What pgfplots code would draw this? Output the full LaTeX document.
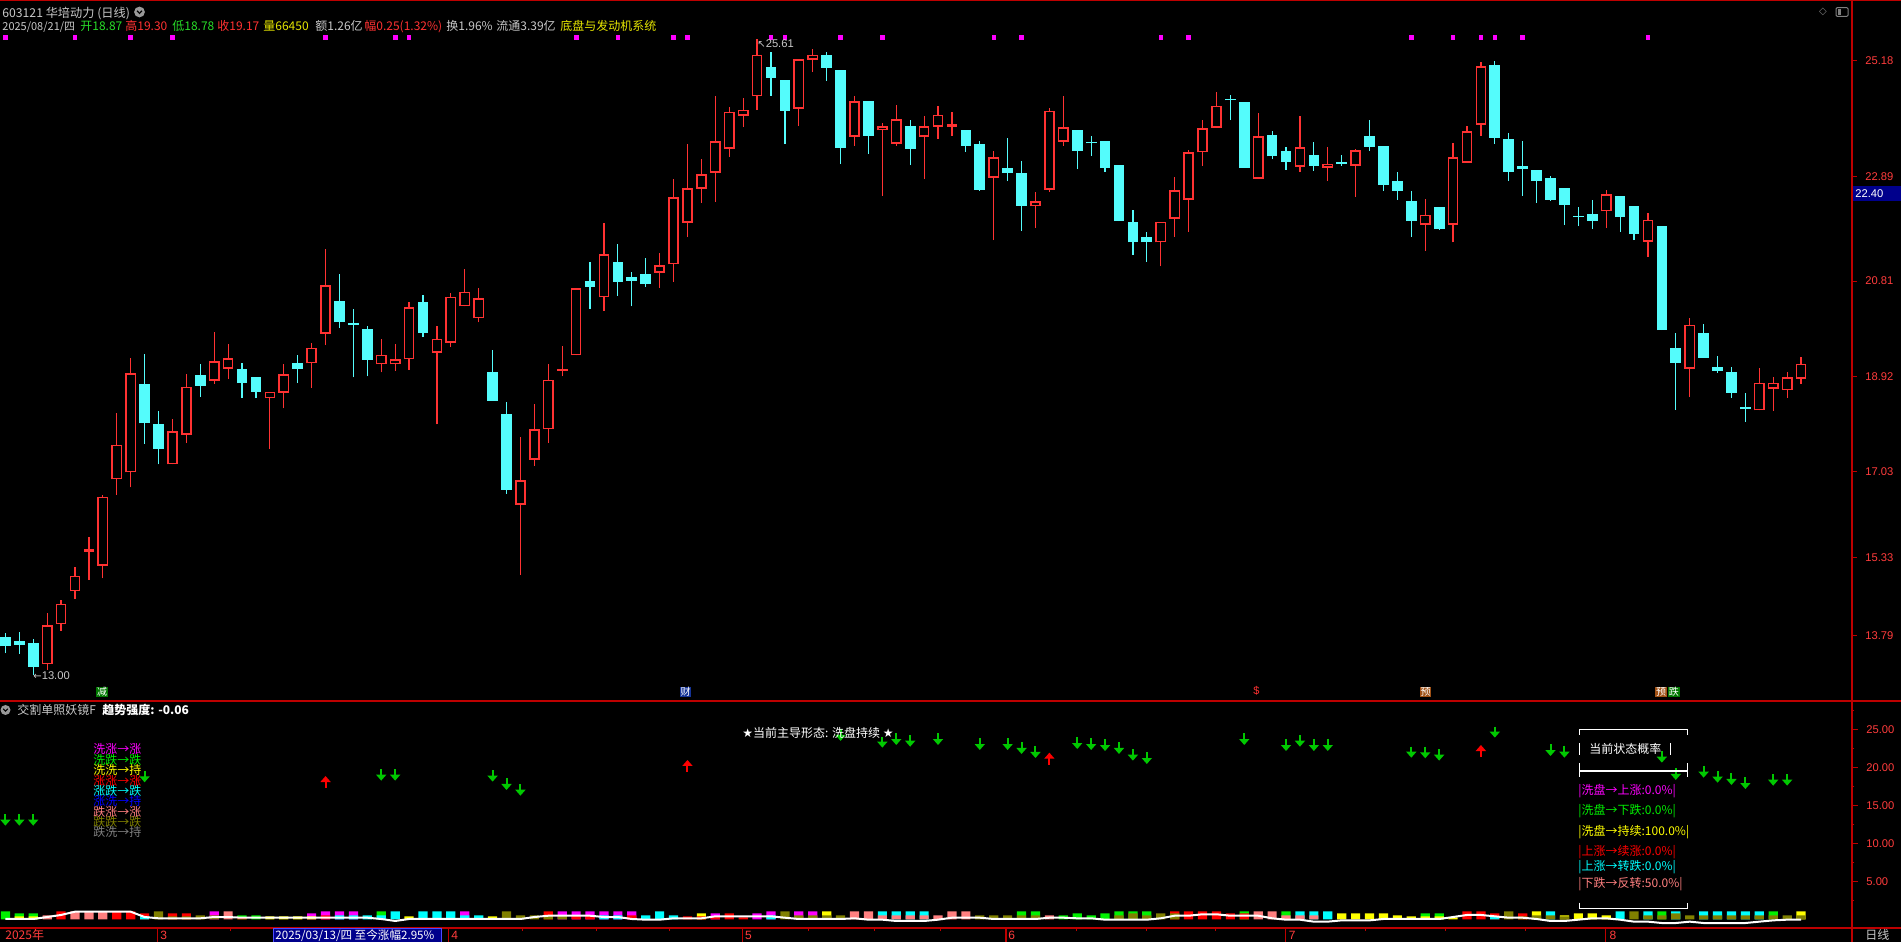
\documentclass[border=0pt]{standalone}
\usepackage{fontspec}
\setmainfont{Liberation Sans}
\newfontfamily\cjk{Noto Sans CJK SC}
\newfontfamily\dv{DejaVu Sans}
\usepackage{pgfplots}
\pgfplotsset{compat=1.18}
\usepackage{pgfplotstable}
\usetikzlibrary{arrows.meta}

\definecolor{axred}{RGB}{190,0,0}
\definecolor{labred}{RGB}{255,60,60}
\definecolor{upred}{RGB}{255,50,50}
\definecolor{dncyan}{RGB}{84,252,252}
\definecolor{bgreen}{RGB}{0,240,0}
\definecolor{agreen}{RGB}{0,200,0}
\definecolor{byellow}{RGB}{255,255,0}
\definecolor{bpink}{RGB}{255,128,128}
\definecolor{bred}{RGB}{255,0,0}
\definecolor{bcyan}{RGB}{0,255,255}
\definecolor{bolive}{RGB}{128,128,0}
\definecolor{bmag}{RGB}{255,0,255}
\definecolor{bblue}{RGB}{0,0,255}
\definecolor{txtgray}{RGB}{200,200,200}
\definecolor{navy2}{RGB}{0,0,140}
\definecolor{tgreen}{RGB}{40,220,40}
\definecolor{tyellow}{RGB}{230,230,0}

% up candles (red, hollow)
\pgfplotstableread{
i o h l c
4 13.22 14.23 13.11 13.99
5 14.01 14.49 13.88 14.42
6 14.66 15.14 14.51 14.97
7 15.45 15.74 14.89 15.50
8 15.17 16.58 14.92 16.54
9 16.88 18.19 16.58 17.57
10 17.02 19.28 16.72 18.98
13 17.18 18.07 17.18 17.83
14 17.77 18.96 17.60 18.72
16 18.84 19.80 18.78 19.22
17 19.07 19.57 18.87 19.28
20 18.49 18.62 17.49 18.62
21 18.60 19.16 18.29 18.96
23 19.18 19.59 18.70 19.49
24 19.77 21.45 19.54 20.73
28 19.16 19.67 19.00 19.35
29 19.16 19.57 19.03 19.26
30 19.26 20.40 19.05 20.29
32 19.39 19.92 17.97 19.67
33 19.59 20.58 19.50 20.50
34 20.31 21.05 20.31 20.60
35 20.07 20.68 19.99 20.47
38 16.38 17.72 14.99 16.86
39 17.27 18.38 17.15 17.87
40 17.87 19.16 17.61 18.86
41 19.03 19.53 18.92 19.07
42 19.34 20.67 19.34 20.67
44 20.49 21.96 20.22 21.34
48 20.98 21.37 20.68 21.12
49 21.14 22.83 20.80 22.47
50 21.97 23.53 21.68 22.65
51 22.64 23.23 22.36 22.93
52 22.96 24.48 22.38 23.58
53 23.43 24.27 23.27 24.17
54 24.09 24.44 23.86 24.21
55 24.47 25.61 24.20 25.30
58 24.23 25.21 23.88 25.21
59 25.20 25.41 24.95 25.30
62 23.67 24.48 23.49 24.37
64 23.80 23.94 22.50 23.88
65 23.53 24.30 23.49 24.02
67 23.67 24.08 22.83 23.88
68 23.87 24.28 23.63 24.11
69 23.87 24.16 23.69 23.92
72 22.86 23.39 21.62 23.26
75 22.29 22.58 21.86 22.39
76 22.62 24.24 22.58 24.19
77 23.57 24.48 23.49 23.86
84 21.58 21.99 21.10 21.99
85 22.05 22.87 21.69 22.61
86 22.42 23.41 21.79 23.36
87 23.36 24.00 23.10 23.84
88 23.85 24.56 23.85 24.29
91 22.84 24.14 22.84 23.68
94 23.08 24.08 22.98 23.46
96 23.06 23.47 22.80 23.14
98 23.10 23.43 22.48 23.40
103 21.93 22.44 21.41 22.13
105 21.93 23.55 21.58 23.26
106 23.16 23.88 23.16 23.78
107 23.91 25.15 23.69 25.07
116 22.19 22.61 21.86 22.53
119 21.59 22.16 21.29 22.03
122 19.07 20.08 18.51 19.95
127 18.25 19.09 18.25 18.80
128 18.68 18.91 18.24 18.80
129 18.65 19.01 18.50 18.90
130 18.87 19.30 18.78 19.17
}\upc

% down candles (cyan, filled)
\pgfplotstableread{
i o h l c
1 13.75 13.83 13.44 13.57
2 13.68 13.86 13.43 13.60
3 13.64 13.71 13.00 13.17
11 18.78 19.36 17.59 17.99
12 17.97 18.23 17.18 17.49
15 18.95 19.16 18.52 18.74
18 19.07 19.19 18.49 18.79
19 18.91 18.91 18.49 18.62
22 19.18 19.35 18.79 19.07
25 20.41 20.95 19.89 19.99
26 19.98 20.26 18.90 19.94
27 19.86 19.92 18.92 19.25
31 20.39 20.53 19.70 19.78
36 19.01 19.44 18.44 18.44
37 18.18 18.41 16.60 16.68
43 20.82 21.19 20.26 20.70
45 21.19 21.55 20.52 20.80
46 20.89 20.99 20.31 20.82
47 20.95 21.27 20.69 20.75
56 25.05 25.35 24.48 24.84
57 24.80 24.80 23.53 24.19
60 25.30 25.35 24.78 25.04
61 24.99 24.99 23.13 23.45
63 24.37 24.37 23.33 23.69
66 23.88 24.00 23.11 23.43
70 23.80 23.80 23.37 23.49
71 23.53 23.58 22.60 22.62
73 23.05 23.65 22.79 22.95
74 22.95 23.19 21.80 22.30
78 23.80 23.80 23.03 23.39
79 23.57 23.69 23.29 23.54
80 23.59 23.59 22.98 23.05
81 23.11 23.11 22.00 22.00
82 21.98 22.22 21.33 21.58
83 21.68 21.78 21.19 21.58
89 24.42 24.50 24.00 24.39
90 24.36 24.36 23.06 23.06
92 23.70 23.79 23.22 23.28
93 23.39 23.47 23.02 23.18
95 23.31 23.57 23.00 23.10
97 23.17 23.31 23.10 23.14
99 23.68 24.00 23.39 23.47
100 23.49 23.49 22.60 22.71
101 22.79 22.97 22.42 22.60
102 22.40 22.60 21.68 22.00
104 22.28 22.28 21.82 21.84
108 25.09 25.17 23.53 23.65
109 23.63 23.74 22.79 22.97
110 23.09 23.59 22.50 23.04
111 23.01 23.01 22.36 22.79
112 22.85 22.89 22.40 22.42
113 22.65 22.65 21.92 22.32
114 22.11 22.28 21.90 22.08
115 22.14 22.42 21.84 22.00
117 22.50 22.50 21.78 22.08
118 22.30 22.30 21.62 21.74
120 21.90 21.91 19.84 19.84
121 19.48 19.78 18.26 19.19
123 19.78 19.96 19.29 19.29
124 19.11 19.33 18.99 19.03
125 19.01 19.11 18.50 18.60
126 18.31 18.59 18.02 18.27
}\dnc

% green down arrows: start (top) and tip
\pgfplotstableread{
i a b
1 13.85 12.32
2 13.85 12.32
3 13.85 12.32
11 19.51 18.02
28 19.77 18.24
29 19.77 18.24
36 19.64 18.11
37 18.55 17.01
38 17.76 16.26
61 25.00 23.47
64 24.03 22.58
65 24.47 22.93
66 24.25 22.71
68 24.47 22.93
71 23.81 22.27
73 23.81 22.27
74 23.28 21.75
75 22.80 21.22
78 23.98 22.40
79 23.81 22.27
80 23.72 22.14
81 23.28 21.75
82 22.40 20.87
83 21.97 20.43
90 24.47 22.93
93 23.72 22.14
94 24.25 22.71
95 23.72 22.14
96 23.72 22.14
102 22.71 21.26
103 22.71 21.18
104 22.36 20.87
108 25.34 23.90
112 23.02 21.48
113 22.84 21.26
120 22.14 20.61
121 19.86 18.33
123 20.17 18.63
124 19.51 17.97
125 19.25 17.67
126 18.68 17.14
128 19.07 17.58
129 19.07 17.58
}\garr

% red up arrows: start (bottom) and tip
\pgfplotstableread{
i a b
24 17.32 18.85
50 19.42 20.96
76 20.30 21.92
107 21.40 22.93
}\rarr

\begin{document}
\begin{tikzpicture}
\path[use as bounding box] (0pt,0pt) rectangle (950.5pt,471pt);
\fill[black] (0pt,0pt) rectangle (950.5pt,471pt);

% ================= MAIN PANEL =================
\begin{axis}[
  at={(0pt,120.5pt)}, anchor=south west, scale only axis,
  width=926pt, height=350.5pt,
  xmin=0.612, xmax=133.66, ymin=12.489, ymax=26.381,
  axis line style={draw=none},
  xtick=\empty,
  ytick={13.79,15.33,17.03,18.92,20.81,22.89,25.18},
  yticklabels={13.79,15.33,17.03,18.92,20.81,22.89,25.18},
  ytick pos=right, yticklabel pos=right,
  tick align=outside, major tick length=2.3pt,
  tick style={axred, line width=0.6pt},
  yticklabel style={font=\fontsize{5.6}{6}\selectfont, text=labred, anchor=west, xshift=4.2pt, inner sep=0pt},
  clip=false,
]
% up candles
\addplot[upred, line width=0.6pt, quiver={u=0, v={\thisrow{h}-\thisrow{l}}}] table[x=i, y=l] {\upc};
\addplot[upred, line width=5.35pt, quiver={u=0, v={\thisrow{c}-\thisrow{o}}}] table[x=i, y=o] {\upc};
\addplot[black, line width=3.85pt, quiver={u=0, v={max(\thisrow{c}-\thisrow{o}-0.06,0)}}] table[x=i, y expr=\thisrow{o}+0.03] {\upc};
% down candles
\addplot[dncyan, line width=0.6pt, quiver={u=0, v={\thisrow{h}-\thisrow{l}}}] table[x=i, y=l] {\dnc};
\addplot[dncyan, line width=5.35pt, quiver={u=0, v={\thisrow{o}-\thisrow{c}}}] table[x=i, y=c] {\dnc};
% magenta signal dots
\addplot[only marks, mark=square*, mark size=0.9pt, color=bmag] coordinates {
(1,25.64) (6,25.64) (10,25.64) (13,25.64) (24,25.64) (29,25.64) (30,25.64) (42,25.64) (45,25.64)
(49,25.64) (50,25.64) (56,25.64) (57,25.64) (61,25.64) (64,25.64) (72,25.64) (74,25.64) (84,25.64)
(86,25.64) (102,25.64) (105,25.64) (107,25.64) (108,25.64) (110,25.64) (119,25.64)};
\end{axis}

% ================= BOTTOM PANEL =================
\begin{axis}[
  at={(0pt,7pt)}, anchor=south west, scale only axis,
  width=926pt, height=113.5pt,
  xmin=0.612, xmax=133.66, ymin=-1.145, ymax=28.72,
  axis line style={draw=none},
  xtick=\empty,
  ytick={5,10,15,20,25},
  yticklabels={5.00,10.00,15.00,20.00,25.00},
  minor ytick={2.5,7.5,12.5,17.5,22.5,27.5},
  ytick pos=right, yticklabel pos=right,
  tick align=outside, major tick length=2.8pt, minor tick length=1.2pt,
  tick style={axred, line width=0.6pt},
  yticklabel style={font=\fontsize{5.6}{6}\selectfont, text=labred, anchor=west, xshift=4.2pt, inner sep=0pt},
  clip=false,
]
% bars: full height in top colour
\addplot[ybar, bar width=4.6pt, bar shift=0pt, fill=bgreen, draw=none] coordinates {
(1,1.05) (2,0.79) (3,0.79) (18,0.53) (19,0.53) (28,1.05) (74,1.05) (75,1.05) (77,0.53) (78,0.79) (79,0.53)
(80,0.79) (81,1.05) (82,1.05) (83,1.05) (90,1.05) (93,1.05) (103,0.79) (104,0.79) (120,1.05) (128,1.05)};
\addplot[ybar, bar width=4.6pt, bar shift=0pt, fill=byellow, draw=none] coordinates {
(20,0.39) (21,0.39) (22,0.39) (30,0.39) (36,0.39) (51,0.79) (60,1.05) (97,0.79) (98,0.79) (99,0.79)
(100,0.79) (101,0.53) (102,0.39) (105,0.26) (111,1.05) (113,0.53) (114,0.79) (115,0.79) (116,0.53) (130,1.05)};
\addplot[ybar, bar width=4.6pt, bar shift=0pt, fill=bpink, draw=none] coordinates {
(4,0.53) (6,1.05) (7,1.05) (8,1.05) (17,1.05) (62,1.05) (63,1.05) (68,0.53) (69,1.05) (70,1.05)
(76,0.53) (91,1.05) (92,1.05)};
\addplot[ybar, bar width=4.6pt, bar shift=0pt, fill=bred, draw=none] coordinates {
(5,1.05) (9,1.05) (10,1.05) (11,0.79) (13,0.79) (14,0.79) (40,1.05) (50,0.39) (53,0.79) (54,0.26)
(85,1.05) (86,1.05) (87,1.05) (88,1.05) (89,0.79) (106,1.05) (107,1.05) (108,0.79) (110,0.79)};
\addplot[ybar, bar width=4.6pt, bar shift=0pt, fill=bcyan, draw=none] coordinates {
(27,0.53) (29,1.05) (31,1.05) (32,1.05) (33,1.05) (35,0.53) (47,0.53) (48,1.05) (49,0.53) (64,1.05)
(65,1.05) (66,1.05) (67,1.05) (94,1.05) (95,1.05) (96,1.05) (112,1.05) (117,1.05) (119,1.05) (121,1.05)
(123,1.05) (124,1.05) (125,1.05) (126,1.05) (127,1.05)};
\addplot[ybar, bar width=4.6pt, bar shift=0pt, fill=bolive, draw=none] coordinates {
(12,1.05) (15,0.53) (37,1.05) (38,0.53) (39,0.53) (57,1.05) (61,0.53) (71,0.53) (72,0.53) (73,0.53)
(84,0.79) (109,1.05) (118,1.05) (122,0.53) (129,0.53)};
\addplot[ybar, bar width=4.6pt, bar shift=0pt, fill=bmag, draw=none] coordinates {
(16,1.05) (23,0.79) (24,1.05) (25,1.05) (26,1.05) (34,1.05) (41,1.05) (42,1.05) (43,1.05) (44,1.05)
(45,1.05) (46,1.05) (52,0.79) (55,0.79) (56,1.05) (58,1.05) (59,1.05)};
% bars: lower segment in second colour
\addplot[ybar, bar width=4.6pt, bar shift=0pt, fill=byellow, draw=none] coordinates {
(2,0.39) (3,0.39) (23,0.39) (103,0.39) (104,0.39)};
\addplot[ybar, bar width=4.6pt, bar shift=0pt, fill=bred, draw=none] coordinates {
(18,0.26) (24,0.53) (42,0.53) (43,0.53) (46,0.53) (51,0.39) (52,0.39) (90,0.79)};
\addplot[ybar, bar width=4.6pt, bar shift=0pt, fill=bcyan, draw=none] coordinates {
(11,0.39) (25,0.53) (26,0.53) (28,0.53) (34,0.53) (44,0.53) (45,0.53) (56,0.53) (108,0.39)};
\addplot[ybar, bar width=4.6pt, bar shift=0pt, fill=bolive, draw=none] coordinates {
(13,0.39) (14,0.39) (16,0.53) (40,0.53) (41,0.53) (58,0.53) (59,0.53) (60,0.53) (74,0.53) (75,0.53)
(81,0.53) (82,0.79) (83,0.53) (85,0.79) (110,0.39) (111,0.53) (112,0.53) (113,0.39) (119,0.53) (120,0.53)
(121,0.79) (123,0.53) (124,0.53) (125,0.53) (126,0.53) (127,0.53) (128,0.53) (130,0.53)};
\addplot[ybar, bar width=4.6pt, bar shift=0pt, fill=bpink, draw=none] coordinates {
(64,0.53) (65,0.53) (66,0.53) (67,0.53) (93,0.53) (94,0.53) (95,0.53)};
% white line
\addplot[white, line width=1pt] coordinates {
(1,0.04) (2,0.04) (3,0.04) (4,0.3) (5,0.57) (6,1.0) (7,1.0) (8,1.0) (9,1.0) (10,1.0)
(11,0.3) (12,0.13) (13,0.13) (14,0.13) (15,0.13) (16,0.3) (17,0.3) (18,0.21) (19,0.21) (20,0.21)
(21,0.21) (22,0.21) (23,0.21) (24,0.21) (25,0.21) (26,0.21) (27,0.21) (28,0.04) (29,-0.22) (30,0.04)
(31,0.04) (32,0.04) (33,0.04) (34,0.04) (35,0.04) (36,0.04) (37,0.04) (38,0.04) (39,0.3) (40,0.47)
(41,0.47) (42,0.47) (43,0.47) (44,0.3) (45,0.3) (46,0.04) (47,-0.05) (48,-0.05) (49,0.13) (50,0.13)
(51,0.13) (52,0.39) (53,0.39) (54,0.39) (55,0.39) (56,0.39) (57,0.21) (58,0.04) (59,0.04) (60,0.04)
(61,0.04) (62,0.13) (63,-0.05) (64,-0.05) (65,-0.22) (66,-0.22) (67,-0.22) (68,-0.05) (69,0.21) (70,0.21)
(71,0.21) (72,0.04) (73,0.04) (74,0.04) (75,0.04) (76,0.21) (77,0.21) (78,0.13) (79,0.13) (80,-0.05)
(81,-0.05) (82,-0.05) (83,-0.05) (84,0.13) (85,0.47) (86,0.47) (87,0.66) (88,0.66) (89,0.47) (90,0.47)
(91,0.47) (92,0.13) (93,-0.05) (94,-0.05) (95,-0.31) (96,-0.31) (97,-0.14) (98,-0.14) (99,-0.14) (100,0.04)
(101,0.04) (102,0.04) (103,0.04) (104,0.04) (105,0.3) (106,0.57) (107,0.57) (108,0.39) (109,0.21) (110,0.21)
(111,0.04) (112,-0.22) (113,-0.22) (114,-0.05) (115,0.13) (116,0.13) (117,-0.05) (118,-0.31) (119,-0.31) (120,-0.49)
(121,-0.49) (122,-0.31) (123,-0.49) (124,-0.49) (125,-0.49) (126,-0.49) (127,-0.31) (128,-0.14) (129,-0.05) (130,-0.05)};
% arrows
\addplot[agreen, line width=1pt, -{Triangle[width=5pt,length=3pt]}, quiver={u=0, v={\thisrow{b}-\thisrow{a}}}] table[x=i, y=a] {\garr};
\addplot[bred, line width=1pt, -{Triangle[width=5pt,length=3pt]}, quiver={u=0, v={\thisrow{b}-\thisrow{a}}}] table[x=i, y=a] {\rarr};
\end{axis}

% ================= FRAME =================
\draw[axred, line width=0.6pt] (0pt,470.6pt) -- (950.5pt,470.6pt);
\draw[axred, line width=0.75pt] (0pt,120.5pt) -- (950.5pt,120.5pt);
\draw[axred, line width=0.75pt] (0pt,7pt) -- (950.5pt,7pt);
\draw[axred, line width=0.6pt] (926pt,0pt) -- (926pt,471pt);
\draw[axred, line width=1.3pt] (926pt,7pt) -- (926pt,120.5pt);

% date strip separators and ticks
\foreach \xx in {78.8,224.35,371.2,503,642.85,802.85} {\draw[axred, line width=0.6pt] (\xx pt,0pt) -- (\xx pt,7pt);}
\foreach \xx in {115.3,261.2,298.35,334.8,404.2,437,470,538.25,573.15,607.65,682.65,722.65,762.65} {\draw[axred, line width=0.5pt] (\xx pt,7pt) -- (\xx pt,5.6pt);}
\fill[navy2] (136.5pt,0pt) rectangle (220.5pt,6.6pt);
\draw[blue!70!white, line width=0.3pt] (136.5pt,0pt) rectangle (220.5pt,6.6pt);
\node[anchor=west, inner sep=0pt, text=white, font=\cjk\fontsize{5.8}{6}\selectfont] at (137.5pt,3.4pt) {2025/03/13/四 至今涨幅2.95\%};
\node[anchor=west, inner sep=0pt, text=labred, font=\cjk\fontsize{6}{6}\selectfont] at (2.5pt,3.4pt) {2025年};
\foreach \xx/\lab in {80/3,225.5/4,372.3/5,504/6,644.2/7,804.65/8} {\node[anchor=west, inner sep=0pt, text=labred, font=\fontsize{6}{6}\selectfont] at (\xx pt,3.4pt) {\lab};}
\node[anchor=west, inner sep=0pt, text=txtgray, font=\cjk\fontsize{6}{6}\selectfont] at (932.5pt,3.4pt) {日线};

% price label box
\fill[navy2] (926.4pt,370.5pt) rectangle (950.5pt,378pt);
\node[anchor=west, inner sep=0pt, text=white, font=\fontsize{5.6}{6}\selectfont] at (927.5pt,374.25pt) {22.40};

% top right icons
\node[inner sep=0pt, text=gray, font=\dv\fontsize{5}{5}\selectfont] at (911.5pt,465pt) {◇};
\draw[gray, line width=0.5pt, rounded corners=0.6pt] (918pt,462.8pt) rectangle (924pt,467.2pt);
\fill[gray] (918.8pt,463.6pt) rectangle (920.6pt,466.4pt);

% ================= HEADER =================
\node[anchor=base west, inner sep=0pt, text=txtgray, font=\cjk\fontsize{6.1}{7}\selectfont] at (1pt,462pt) {603121 华培动力 (日线)};
\fill[gray!80] (69.75pt,465pt) circle (2.7pt);
\draw[black, line width=0.6pt] (68.5pt,465.6pt) -- (69.75pt,464.3pt) -- (71pt,465.6pt);
\begin{scope}[every node/.style={anchor=base west, inner sep=0pt, font=\cjk\fontsize{6}{7}\selectfont}]
\node[text=txtgray, font=\cjk\fontsize{5.5}{7}\selectfont] at (1pt,455.8pt) {2025/08/21/四};
\node[text=tgreen] at (40pt,455.8pt) {开18.87};
\node[text=upred] at (62.5pt,455.8pt) {高19.30};
\node[text=tgreen] at (86pt,455.8pt) {低18.78};
\node[text=upred] at (108.5pt,455.8pt) {收19.17};
\node[text=tyellow] at (131.5pt,455.8pt) {量66450};
\node[text=txtgray] at (157.5pt,455.8pt) {额1.26亿};
\node[text=upred] at (182pt,455.8pt) {幅0.25(1.32\%)};
\node[text=txtgray] at (223pt,455.8pt) {换1.96\%};
\node[text=txtgray] at (248pt,455.8pt) {流通3.39亿};
\node[text=tyellow] at (280pt,455.8pt) {底盘与发动机系统};
\end{scope}

% high / low annotations
\node[anchor=west, inner sep=0pt, text=txtgray, font=\fontsize{5.6}{6}\selectfont] at (378.5pt,449pt) {{\dv\fontsize{5}{5}\selectfont ↖}25.61};
\node[anchor=west, inner sep=0pt, text=txtgray, font=\fontsize{5.6}{6}\selectfont] at (16.5pt,133pt) {{\dv\fontsize{5}{5}\selectfont ←}13.00};

% event tags at bottom of main panel
\node[inner sep=0.4pt, fill={rgb,255:red,0;green,120;blue,0}, text=white, font=\cjk\fontsize{5}{5}\selectfont] at (51pt,125pt) {减};
\node[inner sep=0.4pt, fill={rgb,255:red,20;green,50;blue,150}, text=white, font=\cjk\fontsize{5}{5}\selectfont] at (342.75pt,125pt) {财};
\node[inner sep=0pt, text=upred, font=\fontsize{5.5}{5}\selectfont] at (628.25pt,125.5pt) {\$};
\node[inner sep=0.4pt, fill={rgb,255:red,160;green,80;blue,20}, text=white, font=\cjk\fontsize{5}{5}\selectfont] at (712.75pt,125pt) {预};
\node[inner sep=0.4pt, fill={rgb,255:red,160;green,80;blue,20}, text=white, font=\cjk\fontsize{5}{5}\selectfont] at (830.5pt,125pt) {预};
\node[inner sep=0.4pt, fill={rgb,255:red,0;green,120;blue,0}, text=white, font=\cjk\fontsize{5}{5}\selectfont] at (836.9pt,125pt) {跌};

% ================= BOTTOM PANEL TEXT =================
\fill[gray!80] (2.75pt,116pt) circle (2.5pt);
\draw[black, line width=0.55pt] (1.6pt,116.6pt) -- (2.75pt,115.4pt) -- (3.9pt,116.6pt);
\node[anchor=west, inner sep=0pt, text=txtgray, font=\cjk\fontsize{6}{7}\selectfont] at (8.5pt,116pt) {交割单照妖镜F};
\node[anchor=west, inner sep=0pt, text=white, font=\cjk\bfseries\fontsize{6}{7}\selectfont] at (51pt,116pt) {趋势强度: -0.06};

\begin{scope}[every node/.style={anchor=west, inner sep=0pt, font=\cjk\fontsize{6}{7}\selectfont}]
\node[text=bmag] at (46.5pt,96.5pt) {洗涨→涨};
\node[text=bgreen] at (46.5pt,91pt) {洗跌→跌};
\node[text=byellow] at (46.5pt,86pt) {洗洗→持};
\node[text=bred] at (46.5pt,80.5pt) {涨涨→涨};
\node[text=bcyan] at (46.5pt,75.5pt) {涨跌→跌};
\node[text=bblue] at (46.5pt,70.5pt) {涨洗→持};
\node[text=bpink] at (46.5pt,65pt) {跌涨→涨};
\node[text=bolive] at (46.5pt,60pt) {跌跌→跌};
\node[text=gray] at (46.5pt,55pt) {跌洗→持};
\node[text=white] at (371pt,104.5pt) {{\dv ★}当前主导形态: 洗盘持续 {\dv ★}};
\end{scope}

% probability box
\draw[white, line width=0.6pt] (789.65pt,103.5pt) -- (789.65pt,106.35pt) -- (843.65pt,106.35pt) -- (843.65pt,103.5pt);
\draw[white, line width=0.6pt] (789.65pt,82.5pt) -- (789.65pt,89.5pt) (789.65pt,85.5pt) -- (843.65pt,85.5pt) (843.65pt,82.5pt) -- (843.65pt,89.5pt);
\draw[white, line width=0.6pt] (789.65pt,19.65pt) -- (789.65pt,16.85pt) -- (843.65pt,16.85pt) -- (843.65pt,19.65pt);
\draw[white, line width=0.5pt] (789.5pt,93.5pt) -- (789.5pt,99.5pt) (835.35pt,93.5pt) -- (835.35pt,99.5pt);
\begin{scope}[every node/.style={anchor=west, inner sep=0pt, font=\cjk\fontsize{6}{7}\selectfont}]
\node[text=white] at (794.5pt,96.5pt) {当前状态概率};
\node[text=bmag] at (789pt,75.5pt) {|洗盘→上涨:0.0\%|};
\node[text=bgreen] at (789pt,65.65pt) {|洗盘→下跌:0.0\%|};
\node[text=byellow] at (789pt,55.15pt) {|洗盘→持续:100.0\%|};
\node[text=bred] at (789pt,44.85pt) {|上涨→续涨:0.0\%|};
\node[text=bcyan] at (789pt,37.65pt) {|上涨→转跌:0.0\%|};
\node[text=bpink] at (789pt,28.85pt) {|下跌→反转:50.0\%|};
\end{scope}
\end{tikzpicture}
\end{document}
